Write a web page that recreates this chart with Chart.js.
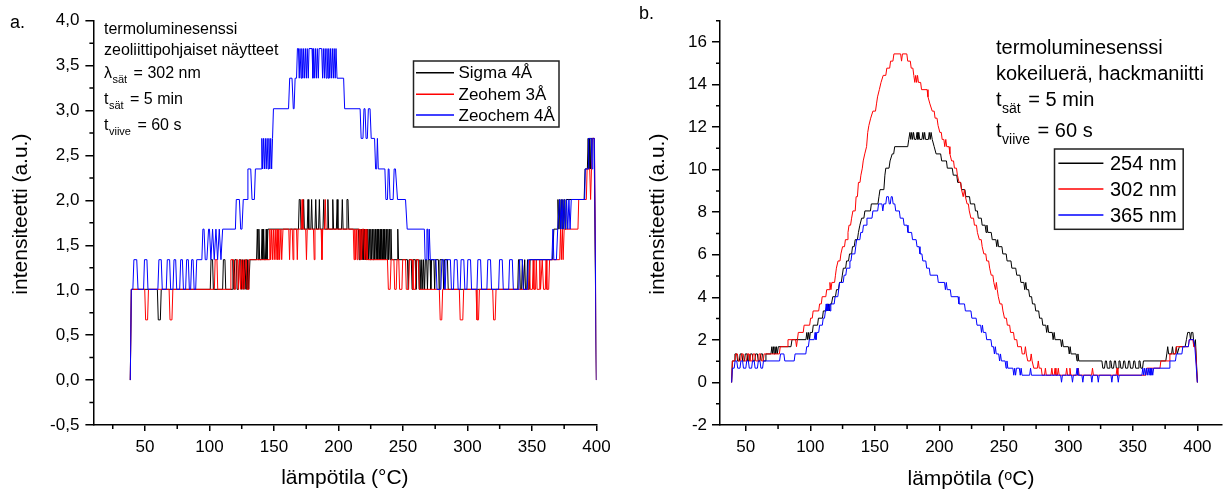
<!DOCTYPE html>
<html><head><meta charset="utf-8">
<script src="https://cdn.jsdelivr.net/npm/chart.js@4.4.1/dist/chart.umd.min.js"></script>
<style>body{margin:0;background:#fff}#wrap{position:relative;width:1224px;height:492px;background:#fff}canvas{position:absolute;top:0}</style>
</head><body><div id="wrap"><canvas id="ca" width="612" height="492" style="left:0"></canvas><canvas id="cb" width="612" height="492" style="left:612px"></canvas></div>
<script>
// ---------------- Panel a data: temperature (°C), intensity (a.u.) ----------------
const seriesNamesA = ['Sigma 4Å', 'Zeohem 3Å', 'Zeochem 4Å'];
const sigma4A = [[38.6,0],[39.4,1.01],[59.6,1.01],[60.3,0.67],[61.9,0.67],[62.6,1.01],[100.6,1.01],[101.2,1.34],[102.4,1.34],[103,1.01],[110.2,1.01],[110.8,1.34],[112,1.34],[112.6,1.01],[117.6,1.01],[118.2,1.34],[119,1.01],[119.6,1.34],[120.8,1.34],[121.4,1.01],[122.4,1.01],[123,1.34],[124.2,1.34],[124.8,1.01],[125.6,1.34],[126.2,1.01],[127,1.34],[127.6,1.01],[128.4,1.34],[129,1.01],[129.8,1.34],[130.4,1.01],[131.4,1.34],[136.5,1.34],[137.1,1.68],[137.7,1.34],[138.3,1.68],[138.9,1.34],[140.2,1.34],[140.8,1.68],[141.4,1.34],[142,1.68],[142.6,1.34],[143.4,1.34],[144,1.68],[144.6,1.34],[145.3,1.68],[169,1.68],[169.6,2.01],[170.4,2.01],[171,1.68],[172.4,1.68],[173,2.01],[173.6,1.68],[175.8,1.68],[176.4,2.01],[177,1.68],[178.6,1.68],[179.2,2.01],[179.8,1.68],[181.8,1.68],[182.4,2.01],[183,1.68],[184.6,1.68],[185.2,2.01],[185.8,1.68],[188,1.68],[188.6,2.01],[189.2,1.68],[191.2,1.68],[191.8,2.01],[192.4,1.68],[195,1.68],[195.6,2.01],[196.2,1.68],[198.4,1.68],[199,2.01],[199.6,1.68],[202.4,1.68],[203,2.01],[203.6,1.68],[206,1.68],[206.6,2.01],[207.4,2.01],[208,1.68],[215.5,1.68],[216.1,1.34],[216.7,1.68],[217.3,1.34],[217.9,1.68],[218.5,1.34],[219.1,1.68],[219.7,1.34],[220.3,1.68],[220.9,1.34],[221.5,1.68],[222.1,1.34],[222.7,1.68],[223.3,1.34],[223.9,1.68],[224.5,1.34],[225.1,1.68],[225.7,1.34],[226.3,1.68],[226.9,1.34],[227.5,1.68],[228.1,1.34],[228.7,1.68],[229.3,1.34],[229.9,1.68],[230.5,1.34],[231.1,1.68],[231.7,1.34],[232.3,1.68],[232.9,1.34],[233.5,1.68],[234.1,1.34],[234.7,1.68],[235.3,1.34],[235.9,1.68],[236.5,1.34],[237.1,1.68],[237.7,1.34],[238.3,1.68],[238.9,1.34],[239.5,1.68],[240.1,1.34],[240.7,1.68],[241.3,1.34],[245.4,1.34],[246,1.68],[246.6,1.34],[253.5,1.34],[254.1,1.01],[254.7,1.34],[256.5,1.34],[257.1,1.01],[257.7,1.34],[259.5,1.34],[260.1,1.01],[260.7,1.34],[262,1.34],[262.6,1.01],[263.2,1.34],[264,1.01],[264.6,1.34],[265.4,1.01],[266,1.34],[266.8,1.01],[267.4,1.34],[268.4,1.34],[269,1.01],[269.6,1.34],[271,1.34],[271.6,1.01],[272.2,1.34],[274,1.34],[274.6,1.01],[275.2,1.34],[277.5,1.34],[278.1,1.01],[278.7,1.34],[281,1.34],[281.6,1.01],[282.2,1.34],[284.5,1.34],[285.1,1.01],[339,1.01],[339.6,1.34],[340.4,1.34],[341,1.01],[342,1.01],[342.6,1.34],[343.4,1.01],[344.4,1.34],[345,1.01],[346,1.01],[346.6,1.34],[347.2,1.01],[348,1.01],[348.6,1.34],[366,1.34],[367,1.68],[369.5,1.68],[370.2,2.01],[371,1.68],[371.6,2.01],[372.2,1.68],[372.8,2.01],[373.4,1.68],[374,2.01],[374.6,1.68],[375.2,2.01],[375.8,1.68],[376.4,2.01],[390.5,2.01],[391.2,2.35],[393,2.35],[393.6,2.69],[394.2,2.35],[394.8,2.69],[395.4,2.35],[396,2.69],[398.2,2.69],[400,0]];
const zeohem3A = [[38.6,0],[39.4,1.01],[49.8,1.01],[50.5,0.67],[52,0.67],[52.7,1.01],[68.7,1.01],[69.4,0.67],[70.9,0.67],[71.6,1.01],[103.8,1.01],[104.4,1.34],[105.8,1.34],[106.4,1.01],[116,1.01],[116.6,1.34],[118.6,1.34],[119.2,1.01],[120.2,1.01],[120.8,1.34],[121.8,1.34],[122.4,1.01],[123.4,1.34],[124,1.01],[124.8,1.34],[125.4,1.01],[126.2,1.34],[126.8,1.01],[127.8,1.34],[128.6,1.34],[129.2,1.01],[130,1.01],[130.6,1.34],[146.2,1.34],[146.8,1.68],[147.4,1.34],[148.2,1.68],[148.8,1.34],[149.6,1.68],[150.2,1.34],[151,1.68],[151.6,1.34],[152.4,1.68],[153,1.34],[153.8,1.68],[154.4,1.34],[155.4,1.68],[156,1.34],[157,1.68],[161.5,1.68],[162.1,1.34],[162.7,1.68],[164.2,1.68],[164.8,1.34],[165.4,1.68],[167.5,1.68],[168.1,1.34],[168.7,1.68],[171.2,1.68],[171.8,2.01],[172.4,1.68],[174.6,1.68],[175.2,1.34],[175.8,1.68],[180.6,1.68],[181.2,1.34],[181.8,1.68],[186.6,1.68],[187.2,1.34],[187.8,1.68],[189.2,1.68],[189.8,2.01],[190.4,1.68],[211.5,1.68],[212.1,1.34],[212.7,1.68],[213.3,1.34],[213.9,1.68],[214.5,1.34],[215.1,1.68],[216.2,1.68],[216.8,1.34],[217.4,1.68],[218,1.34],[218.6,1.68],[219.6,1.68],[220.2,1.34],[220.8,1.68],[221.4,1.34],[222,1.68],[222.6,1.34],[238,1.34],[238.7,1.01],[240.1,1.01],[240.8,1.34],[243,1.34],[243.6,1.01],[244.8,1.01],[245.4,1.34],[246.8,1.34],[247.4,1.01],[249.2,1.01],[249.8,1.34],[252,1.34],[252.6,1.01],[254.4,1.01],[255,1.34],[257.2,1.34],[257.8,1.01],[259.6,1.01],[260.2,1.34],[262,1.34],[262.7,1.01],[278.2,1.01],[278.9,0.67],[280.1,0.67],[280.8,1.01],[293.7,1.01],[294.4,0.67],[296.4,0.67],[297.1,1.01],[306.7,1.01],[307.4,0.67],[308.6,0.67],[309.3,1.01],[319.6,1.01],[320.3,0.67],[321.5,0.67],[322.2,1.01],[347.5,1.01],[348.1,1.34],[348.7,1.01],[350.4,1.01],[351,1.34],[351.6,1.01],[352.8,1.01],[353.4,1.34],[354,1.01],[355.5,1.01],[356.1,1.34],[356.7,1.01],[358,1.34],[359,1.01],[360.4,1.01],[361,1.34],[361.6,1.01],[363,1.01],[363.7,1.34],[371.5,1.34],[372.2,1.68],[372.8,1.34],[373.6,1.68],[374.2,1.34],[375,1.68],[385.7,1.68],[386.3,2.01],[392.2,2.01],[392.8,2.35],[394.8,2.35],[395.5,2.01],[396.2,2.35],[397,2.69],[398.5,2.69],[400,0]];
const zeochem4A = [[38.6,0],[39.4,1.01],[40.6,1.01],[41.4,1.34],[43.6,1.34],[44.6,1.01],[48.9,1.01],[49.6,1.34],[51.5,1.34],[52.3,1.01],[60,1.01],[60.8,1.34],[62.6,1.34],[63.4,1.01],[66.5,1.01],[67.3,1.34],[69.1,1.34],[69.9,1.01],[71.7,1.01],[72.5,1.34],[73.8,1.34],[74.6,1.01],[76.9,1.01],[77.7,1.34],[79,1.34],[79.8,1.01],[81.5,1.01],[82.3,1.34],[83.6,1.34],[84.4,1.01],[85.4,1.01],[86.2,1.34],[87.3,1.34],[88.1,1.01],[89.3,1.01],[90.1,1.34],[94.1,1.34],[94.9,1.68],[95.8,1.68],[96.7,1.34],[98,1.34],[99.3,1.68],[100,1.68],[101.1,1.34],[102.4,1.68],[103.7,1.34],[105,1.68],[106.3,1.34],[107.6,1.68],[108.9,1.34],[110.2,1.68],[120.1,1.68],[120.8,2.01],[123.2,2.01],[124.2,1.68],[125.2,1.68],[126.2,2.01],[129.1,2.01],[129.8,2.35],[132,2.35],[133,2.01],[134.8,2.01],[135.6,2.35],[140,2.35],[140.6,2.69],[141.2,2.35],[141.9,2.69],[142.6,2.35],[143.3,2.69],[144,2.35],[144.7,2.69],[145.4,2.35],[146.1,2.69],[146.8,2.35],[147.5,2.69],[148.2,2.35],[148.9,2.69],[149.6,3.02],[161.3,3.02],[162.2,3.36],[164,3.36],[165,3.02],[165.6,3.02],[166.4,3.36],[167.5,3.36],[168.2,3.69],[169,3.69],[169.6,3.36],[170.2,3.69],[171,3.36],[171.6,3.69],[172.4,3.36],[173,3.69],[173.8,3.36],[174.4,3.69],[175.2,3.36],[175.8,3.69],[176.6,3.36],[177.2,3.69],[179.5,3.69],[180.2,3.36],[180.8,3.69],[181.6,3.36],[182.2,3.69],[183,3.36],[183.6,3.69],[184.4,3.36],[185,3.69],[187,3.69],[187.7,3.36],[188.3,3.69],[189.1,3.36],[189.7,3.69],[190.5,3.36],[191.1,3.69],[191.9,3.36],[192.5,3.69],[193.3,3.36],[193.9,3.69],[194.7,3.36],[195.3,3.69],[196.1,3.36],[196.7,3.69],[197.5,3.36],[198.1,3.69],[198.9,3.36],[204,3.36],[204.8,3.02],[216.8,3.02],[217.6,2.69],[219,2.69],[219.8,3.02],[220.6,3.02],[221.4,2.69],[222.4,2.69],[223.2,3.02],[224.5,3.02],[225.4,2.69],[228,2.69],[228.8,2.35],[229.6,2.35],[230.2,2.69],[230.9,2.35],[236,2.35],[236.8,2.01],[238,2.01],[238.6,2.35],[239.2,2.35],[240,2.01],[242.4,2.01],[243.2,2.35],[244.2,2.35],[245.8,2.01],[252,2.01],[253.3,1.68],[266.6,1.68],[267.2,1.34],[268,1.34],[268.6,1.68],[269.2,1.68],[269.8,1.34],[270.4,1.68],[271.2,1.34],[275.6,1.34],[276.4,1.01],[279.4,1.01],[280.2,1.34],[281.6,1.34],[282.4,1.01],[282.8,1.01],[283.4,1.34],[286.8,1.34],[287.6,1.01],[289.2,1.01],[289.9,1.34],[292,1.34],[292.8,1.01],[294.4,1.01],[295.1,1.34],[297.2,1.34],[298,1.01],[299.6,1.01],[300.3,1.34],[302.4,1.34],[303.2,1.01],[307.4,1.01],[308.1,1.34],[310.2,1.34],[311,1.01],[315.1,1.01],[315.8,1.34],[317.9,1.34],[318.7,1.01],[324.2,1.01],[324.9,1.34],[327,1.34],[327.8,1.01],[332,1.01],[332.7,1.34],[334.8,1.34],[335.6,1.01],[339.8,1.01],[340.5,1.34],[342.6,1.34],[343.4,1.01],[346.4,1.01],[347.2,1.34],[365.5,1.34],[366.3,1.68],[367,1.34],[369,1.34],[370,1.68],[371.5,2.01],[372.5,1.68],[373.3,2.01],[374.3,1.68],[375.1,2.01],[376,1.68],[376.9,2.01],[377.8,1.68],[378.7,2.01],[379.6,1.68],[380.5,2.01],[390.9,2.01],[391.4,2.35],[393.5,2.35],[394,2.69],[396,2.69],[396.6,2.35],[397.2,2.69],[398.4,2.69],[400,0]];

// ---------------- Panel b data ----------------
const seriesNamesB = ['254 nm', '302 nm', '365 nm'];
const nm254 = [[39,0],[39.6,1.01],[41,1.01],[41.6,1.34],[43,1.34],[43.6,1.01],[45,1.01],[45.6,1.34],[47,1.34],[47.6,1.01],[49,1.01],[49.6,1.34],[51,1.34],[51.6,1.01],[53,1.01],[53.6,1.34],[55,1.34],[55.6,1.01],[57,1.01],[57.6,1.34],[59,1.34],[59.6,1.01],[61,1.01],[61.6,1.34],[63,1.34],[63.6,1.01],[65,1.01],[65.6,1.34],[69.5,1.34],[70.2,1.68],[70.8,1.34],[71.4,1.68],[72,1.34],[72.6,1.68],[73.2,1.34],[73.8,1.68],[74.4,1.34],[75.2,1.68],[85,1.68],[85.8,2.01],[96.6,2.01],[97.3,2.35],[98,2.01],[98.7,2.35],[99.4,2.01],[100,2.35],[101.6,2.35],[102.3,2.69],[105.6,2.69],[106.3,3.02],[109.4,3.02],[110.1,3.36],[112.4,3.36],[113,3.69],[113.6,3.36],[114.2,3.69],[114.8,3.36],[115.4,3.69],[116.4,3.69],[117.4,4.03],[119.5,4.03],[120.3,4.36],[121.8,4.36],[122.6,4.7],[124,4.7],[124.8,5.04],[125.6,5.37],[127.4,5.37],[128.1,5.71],[129.6,5.71],[130.4,6.04],[132,6.04],[132.7,6.38],[134,6.38],[134.8,6.71],[136.5,6.71],[137.3,7.05],[138.4,7.39],[139.8,7.72],[141.5,7.72],[142.3,8.06],[146.6,8.06],[147.3,8.39],[152.4,8.39],[153.2,8.73],[154,9.06],[157,9.06],[157.8,9.74],[158.5,10.07],[161,10.07],[161.8,10.41],[163.5,10.74],[164.6,10.74],[165.4,11.08],[175.5,11.08],[176.3,11.42],[177.2,11.75],[177.9,11.42],[178.6,11.75],[179.3,11.42],[180,11.75],[180.8,11.42],[182,11.42],[182.7,11.75],[183.4,11.42],[184.1,11.75],[184.8,11.42],[186.5,11.42],[187.2,11.75],[187.9,11.42],[188.6,11.75],[189.3,11.42],[191.5,11.42],[192.2,11.75],[192.9,11.42],[193.6,11.75],[194.5,11.42],[196,11.08],[197.5,10.74],[201,10.74],[201.8,10.41],[205.5,10.41],[206.2,10.07],[210,10.07],[210.8,9.74],[213.5,9.74],[214.2,9.4],[216.5,9.4],[217.2,9.06],[219.8,9.06],[220.5,8.73],[223.4,8.73],[224.1,8.39],[227.3,8.39],[228,8.06],[229.5,8.06],[230.2,7.72],[232.5,7.72],[233.2,7.39],[235.5,7.39],[236.2,7.05],[236.9,7.39],[237.6,7.05],[240.2,7.05],[241,6.71],[243.8,6.71],[244.5,6.38],[245.2,6.71],[245.9,6.38],[248.5,6.38],[249.2,6.04],[251.8,6.04],[252.5,5.71],[255.5,5.71],[256.2,5.37],[259.2,5.37],[260,5.04],[262.5,5.04],[263.2,4.7],[265.5,4.7],[266.2,4.36],[267,4.7],[267.7,4.36],[269.2,4.36],[270,4.03],[271.5,4.03],[272.2,3.69],[274,3.69],[274.7,3.36],[277,3.36],[277.7,3.02],[279.5,3.02],[280.2,2.69],[282.5,2.69],[283.2,2.35],[284,2.69],[284.7,2.35],[287.5,2.35],[288.2,2.01],[289,2.35],[289.7,2.01],[294,2.01],[294.7,1.68],[295.4,2.01],[296.1,1.68],[300,1.68],[300.7,1.34],[301.4,1.68],[302.1,1.34],[306,1.34],[306.7,1.01],[307.4,1.34],[308.1,1.01],[326,1.01],[326.7,0.67],[328,0.67],[328.7,1.01],[329.5,1.01],[330.2,0.67],[331.5,0.67],[332.2,1.01],[333,1.01],[333.7,0.67],[335,0.67],[335.7,1.01],[336.5,1.01],[337.2,0.67],[338.5,0.67],[339.2,1.01],[340,1.01],[340.7,0.67],[342.2,0.67],[342.9,1.01],[343.7,1.01],[344.4,0.67],[346,0.67],[346.7,1.01],[347.5,1.01],[348.2,0.67],[350,0.67],[350.7,1.01],[351.5,1.01],[352.2,0.67],[354,0.67],[354.7,1.01],[355.5,1.01],[356.2,0.67],[357.5,0.67],[358.2,1.01],[375.5,1.01],[376.3,1.34],[377,1.68],[377.7,1.34],[380,1.34],[380.7,1.68],[381.4,1.34],[383,1.34],[383.7,1.68],[384.4,1.34],[386,1.68],[390.5,1.68],[391.5,2.01],[392.5,2.35],[394,2.35],[394.7,2.01],[395.4,2.35],[396.5,2.35],[397.5,1.68],[398.5,2.01],[400,0]];
const nm302 = [[39,0],[39.6,1.01],[41.5,1.01],[42.2,1.34],[43.5,1.34],[44.2,1.01],[46,1.01],[46.7,1.34],[48,1.34],[48.7,1.01],[50.5,1.01],[51.2,1.34],[52.5,1.34],[53.2,1.01],[55,1.01],[55.7,1.34],[57,1.34],[57.7,1.01],[59.5,1.01],[60.2,1.34],[61.5,1.34],[62.2,1.01],[63.5,1.01],[64.2,1.34],[76,1.34],[76.7,1.68],[82,1.68],[82.7,2.01],[88.6,2.01],[89.3,1.68],[90,2.01],[90.7,2.35],[94.5,2.35],[95.2,2.69],[99.5,2.69],[100.2,3.02],[101.5,3.02],[102.2,3.36],[106.5,3.36],[107.2,3.69],[108.5,3.69],[109.2,4.03],[112,4.03],[112.7,4.36],[114.5,4.36],[115.2,4.7],[116,4.36],[116.7,4.7],[118.8,4.7],[119.5,5.04],[120.2,5.37],[121.5,5.71],[123,5.71],[123.7,6.04],[125,6.38],[126.5,6.38],[127.2,6.71],[128.5,6.71],[129.2,7.05],[130,7.39],[131.2,7.39],[132,7.72],[133,8.06],[134.8,8.06],[135.5,8.73],[136.5,8.73],[137.3,9.4],[138.5,9.4],[139.2,9.74],[140.3,10.07],[141,10.41],[142.2,10.74],[143.6,11.08],[144.5,11.75],[145.4,12.08],[146.8,12.42],[148.5,12.75],[150.5,12.75],[151.3,13.09],[152.1,13.42],[153.5,13.76],[154.8,14.1],[156.5,14.43],[158.5,14.43],[159.3,14.77],[161.5,14.77],[162.2,15.1],[164,15.1],[164.8,15.44],[170,15.44],[170.7,15.1],[171.4,15.44],[174.8,15.44],[175.5,15.1],[177.5,15.1],[178.2,14.77],[179.5,14.77],[180.2,14.43],[181,14.1],[181.7,14.43],[182.4,14.1],[183.1,14.43],[183.8,14.1],[185.5,14.1],[186.2,13.76],[190.5,13.76],[191.2,13.42],[192.7,13.09],[194.5,12.75],[196,12.75],[196.7,12.42],[198.2,12.42],[199,12.08],[200.4,11.75],[201.5,11.75],[202.2,11.42],[203.5,11.42],[204.2,11.08],[205,11.42],[205.7,11.08],[207.5,11.08],[208.2,10.74],[209.5,10.41],[211,10.41],[211.7,10.07],[213.3,10.07],[214,9.74],[215.3,9.4],[216.5,9.4],[217.2,9.06],[218.5,8.73],[219.5,9.06],[220.2,8.73],[221.5,8.39],[222.5,8.39],[223.2,8.06],[224.5,7.72],[226.5,7.72],[227.2,7.39],[228.8,7.39],[229.5,7.05],[231,6.71],[232.5,6.71],[233.2,6.38],[234.5,6.04],[236,6.04],[236.7,5.71],[238.2,5.71],[239,5.37],[240.2,5.04],[241.5,5.04],[242.2,4.7],[243.5,4.36],[244.2,4.7],[244.9,4.36],[245.7,4.03],[247,3.69],[248.5,3.69],[249.3,3.36],[250.5,3.02],[252,3.02],[252.7,2.69],[254.5,2.69],[255.2,2.35],[257.5,2.35],[258.2,2.01],[260,2.01],[260.7,1.68],[263.5,1.68],[264.2,1.34],[266,1.34],[266.7,1.68],[267.4,1.34],[268.5,1.01],[270.5,1.01],[271.2,1.34],[271.9,1.01],[273.2,0.67],[276,0.67],[276.7,1.01],[277.4,0.67],[279,0.67],[279.7,0.34],[281.5,0.34],[282.2,0.67],[282.9,0.34],[286.5,0.34],[287.2,0.67],[287.9,0.34],[289,0.34],[289.7,0.67],[290.4,0.34],[291.5,0.34],[292.2,0.67],[292.9,0.34],[298,0.34],[298.7,0.67],[299.4,0.34],[300.5,0.34],[301.2,0.67],[301.9,0.34],[307,0.34],[307.7,0.67],[308.4,0.34],[318,0.34],[318.7,0.67],[319.4,0.34],[337,0.34],[337.7,0.67],[338.4,0.34],[360,0.34],[360.7,0.67],[371,0.67],[371.7,1.01],[378,1.01],[378.7,1.34],[383,1.34],[383.7,1.68],[393,1.68],[393.7,2.01],[396.5,2.01],[397.2,1.68],[398.5,1.68],[400,0]];
const nm365 = [[39,0],[39.6,0.67],[41,0.67],[41.7,1.01],[43,1.01],[43.7,0.67],[45.5,0.67],[46.2,1.01],[47.5,1.01],[48.2,0.67],[50,0.67],[50.7,1.01],[52,1.01],[52.7,0.67],[54.5,0.67],[55.2,1.01],[56.5,1.01],[57.2,0.67],[59,0.67],[59.7,1.01],[61,1.01],[61.7,0.67],[63,0.67],[63.7,1.01],[76.2,1.01],[76.9,1.34],[79.5,1.34],[80.2,1.01],[87.5,1.01],[88.2,1.34],[96.5,1.34],[97.2,1.68],[98.5,1.68],[99.2,2.01],[103,2.01],[103.7,2.35],[104.4,2.01],[105.1,2.35],[106.5,2.35],[107.2,2.69],[109.3,2.69],[110,3.02],[111,3.02],[111.7,3.36],[112.3,3.69],[112.9,3.36],[113.5,3.69],[114.1,3.36],[114.7,3.69],[115.3,3.36],[115.9,3.69],[118.5,3.69],[119.2,4.03],[121.3,4.03],[122,4.36],[122.7,4.7],[125.5,4.7],[126.2,5.04],[127.5,5.04],[128.2,5.37],[130,5.37],[130.7,5.71],[131.5,5.71],[132.2,6.04],[134.5,6.04],[135.2,6.38],[135.9,6.71],[138.4,6.71],[139.1,7.05],[140.5,7.05],[141.2,7.39],[143.2,7.39],[143.9,7.72],[147.8,7.72],[148.5,8.06],[152.2,8.06],[152.9,8.39],[155.5,8.39],[156.2,8.06],[156.9,8.39],[158.5,8.39],[159.2,8.73],[160.5,8.73],[161.2,8.39],[162,8.39],[162.7,8.73],[163.5,8.73],[164.2,8.39],[165.5,8.39],[166.2,8.06],[169,8.06],[169.7,7.72],[172,7.72],[172.7,7.39],[175,7.39],[175.7,7.05],[178.5,7.05],[179.2,6.71],[182,6.71],[182.7,6.38],[184.3,6.38],[185,6.04],[186.5,6.04],[187.2,5.71],[189.5,5.71],[190.2,5.37],[192.2,5.37],[192.9,5.04],[198.5,5.04],[199.2,4.7],[204,4.7],[204.7,4.36],[205.4,4.7],[206.1,4.36],[208.5,4.36],[209.2,4.03],[214.5,4.03],[215.2,3.69],[219.5,3.69],[220.2,3.36],[224.5,3.36],[225.2,3.02],[228.5,3.02],[229.2,2.69],[232,2.69],[232.7,2.35],[233.4,2.69],[234.1,2.35],[236,2.35],[236.7,2.01],[240,2.01],[240.7,1.68],[242,1.68],[242.7,1.34],[243.4,1.68],[244.1,1.34],[246,1.34],[246.7,1.01],[247.4,1.34],[248.1,1.01],[251,1.01],[251.7,0.67],[252.4,1.01],[253.1,0.67],[257,0.67],[257.7,0.34],[258.4,0.67],[259.1,0.34],[259.8,0.67],[262,0.67],[262.7,0.34],[263.4,0.67],[264.1,0.34],[270,0.34],[270.7,0.67],[271.4,0.34],[294,0.34],[294.7,0.01],[295.4,0.34],[302.5,0.34],[303.2,0.01],[303.9,0.34],[306,0.34],[306.7,0.67],[307.4,0.34],[310.5,0.34],[311.2,0.01],[311.9,0.34],[317.5,0.34],[318.2,0.01],[318.9,0.34],[322.5,0.34],[323.2,0.01],[323.9,0.34],[333,0.34],[333.7,0.01],[334.4,0.34],[338,0.34],[338.7,0.01],[339.4,0.34],[357,0.34],[357.7,0.67],[358.4,0.34],[359.1,0.67],[359.8,0.34],[360.5,0.67],[361.2,0.34],[361.9,0.67],[362.6,0.34],[363.3,0.67],[364,0.34],[364.7,0.67],[365.4,0.34],[366.1,0.67],[378,0.67],[378.7,1.01],[383,1.01],[383.7,1.34],[388,1.34],[388.7,1.68],[393,1.68],[393.7,2.01],[397,2.01],[398,1.68],[400,0]];

// ---------------- Tick values ----------------
const xMajorA = [50,100,150,200,250,300,350,400];
const xMinorA = [25,75,125,175,225,275,325,375];
const yMajorA = [-0.5,0,0.5,1,1.5,2,2.5,3,3.5,4];
const yMinorA = [-0.25,0.25,0.75,1.25,1.75,2.25,2.75,3.25,3.75];
const xMajorB = [50,100,150,200,250,300,350,400];
const xMinorB = [75,125,175,225,275,325,375];
const yMajorB = [-2,0,2,4,6,8,10,12,14,16];
const yMinorB = [-1,1,3,5,7,9,11,13,15,17];

const FONT = "'Liberation Sans', Arial, Helvetica, sans-serif";
const COLORS = ['#000000', '#ff0000', '#0000ff'];

function pts(a){ return a.map(p => ({x:p[0], y:p[1]})); }
function ds(label, arr, color, order){
  return {label, data: pts(arr), borderColor: color, backgroundColor: color, borderWidth: 1,
          pointRadius: 0, pointHoverRadius: 0, tension: 0, fill: false, order};
}

function drawRich(ctx, x, y, parts, mainSize, subSize, subDy){
  let cx = x;
  for (const p of parts){
    if (p.sub){
      ctx.font = subSize + 'px ' + FONT;
      ctx.fillText(p.t, cx, y + subDy);
      cx += ctx.measureText(p.t).width + (p.gap || 0);
    } else {
      ctx.font = mainSize + 'px ' + FONT;
      ctx.fillText(p.t, cx, y);
      cx += ctx.measureText(p.t).width + (p.gap || 0);
    }
  }
}

const decor = {
  id: 'decor',
  afterDraw(chart, args, o){
    const ctx = chart.ctx, xs = chart.scales.x, ys = chart.scales.y;
    ctx.save();
    // minor ticks
    ctx.strokeStyle = '#000'; ctx.lineWidth = 1.5;
    ctx.beginPath();
    o.xMinor.forEach(v => { if (v < xs.min || v > xs.max) return; const p = xs.getPixelForValue(v); ctx.moveTo(p, xs.top); ctx.lineTo(p, xs.top + 4); });
    o.yMinor.forEach(v => { if (v < ys.min || v > ys.max) return; const p = ys.getPixelForValue(v); ctx.moveTo(ys.right, p); ctx.lineTo(ys.right - 4, p); });
    ctx.stroke();
    // panel label
    ctx.fillStyle = '#000'; ctx.textBaseline = 'alphabetic'; ctx.textAlign = 'left';
    ctx.font = '18px ' + FONT;
    ctx.fillText(o.panel.t, o.panel.x, o.panel.y);
    // annotation lines
    o.lines.forEach(l => drawRich(ctx, l.x, l.y, l.parts, o.mainSize, o.subSize, o.subDy));
    // legend
    const L = o.legend;
    ctx.strokeStyle = '#222'; ctx.lineWidth = 1.5;
    ctx.strokeRect(L.x, L.y, L.w, L.h);
    ctx.textBaseline = 'middle';
    ctx.font = L.size + 'px ' + FONT;
    L.items.forEach((it, i) => {
      const yy = L.rows[i];
      ctx.strokeStyle = it.color; ctx.lineWidth = 1.6;
      ctx.beginPath(); ctx.moveTo(L.lx0, yy); ctx.lineTo(L.lx1, yy); ctx.stroke();
      ctx.fillStyle = '#000';
      ctx.fillText(it.label, L.tx, yy + 1);
    });
    ctx.restore();
  }
};

function makeScales(cfg){
  return {
    x: {
      type: 'linear', min: cfg.xmin, max: cfg.xmax,
      afterBuildTicks: s => { s.ticks = cfg.xMajor.map(v => ({value: v})); },
      afterFit: s => { s.height = 67; s.paddingLeft = 0; s.paddingRight = 0; },
      grid: {drawOnChartArea: false, drawTicks: true, tickLength: 6, tickColor: '#000', tickWidth: 1.5, lineWidth: 1.5},
      border: {display: true, color: '#000', width: 1.5},
      ticks: {font: {family: FONT, size: 17}, color: '#000', padding: 6, maxRotation: 0, autoSkip: false,
              callback: v => String(v)},
      title: {display: true, text: cfg.xTitle, font: {family: FONT, size: 21}, color: '#000',
              padding: {top: 0, bottom: cfg.xTitlePad}}
    },
    y: {
      type: 'linear', min: cfg.ymin, max: cfg.ymax,
      afterBuildTicks: s => { s.ticks = cfg.yMajor.map(v => ({value: v})); },
      afterFit: s => { s.width = cfg.yWidth; s.paddingTop = 0; s.paddingBottom = 0; },
      grid: {drawOnChartArea: false, drawTicks: true, tickLength: 8, tickColor: '#000', tickWidth: 1.5, lineWidth: 1.5},
      border: {display: true, color: '#000', width: 1.5},
      ticks: {font: {family: FONT, size: 17}, color: '#000', padding: cfg.yPad, autoSkip: false,
              callback: cfg.yFmt},
      title: {display: true, text: '   intensiteetti (a.u.)', font: {family: FONT, size: 21}, color: '#000',
              padding: {top: cfg.yTitlePad, bottom: 0}}
    }
  };
}

const common = {
  responsive: false, animation: false, devicePixelRatio: 1,
  interaction: {mode: null},
  plugins: {legend: {display: false}, tooltip: {enabled: false}}
};

new Chart(document.getElementById('ca'), {
  type: 'line',
  data: {datasets: [
    ds(seriesNamesA[0], sigma4A, COLORS[0], 3),
    ds(seriesNamesA[1], zeohem3A, COLORS[1], 2),
    ds(seriesNamesA[2], zeochem4A, COLORS[2], 1)
  ]},
  options: Object.assign({}, common, {
    layout: {padding: {left: 0, right: 15.6, top: 20.7, bottom: 0}, autoPadding: false},
    scales: makeScales({xmin: 10, xmax: 400, xMajor: xMajorA, xTitle: 'lämpötila (°C)', xTitlePad: 1,
      ymin: -0.5, ymax: 4, yMajor: yMajorA, yWidth: 93.4, yPad: 6, yTitlePad: 9,
      yFmt: v => Number(v).toFixed(1).replace('.', ',')}),
    plugins: Object.assign({}, common.plugins, {decor: {
      xMinor: xMinorA, yMinor: yMinorA,
      panel: {t: 'a.', x: 10, y: 28},
      mainSize: 16, subSize: 11, subDy: 5,
      lines: [
        {x: 104, y: 34, parts: [{t: 'termoluminesenssi'}]},
        {x: 104, y: 55, parts: [{t: 'zeoliittipohjaiset näytteet'}]},
        {x: 104, y: 78, parts: [{t: 'λ', gap: 0.5}, {t: 'sät', sub: true, gap: 2}, {t: ' = 302 nm'}]},
        {x: 104, y: 104, parts: [{t: 't', gap: 0.5}, {t: 'sät', sub: true, gap: 2}, {t: ' = 5 min'}]},
        {x: 104, y: 130, parts: [{t: 't', gap: 0.5}, {t: 'viive', sub: true, gap: 2}, {t: ' = 60 s'}]}
      ],
      legend: {x: 413.5, y: 61, w: 145.5, h: 66, size: 17, lx0: 416, lx1: 454, tx: 458.5, rows: [72.7, 94.3, 115],
        items: seriesNamesA.map((s, i) => ({label: s, color: COLORS[i]}))}
    }})
  }),
  plugins: [decor]
});

new Chart(document.getElementById('cb'), {
  type: 'line',
  data: {datasets: [
    ds(seriesNamesB[0], nm254, COLORS[0], 3),
    ds(seriesNamesB[1], nm302, COLORS[1], 2),
    ds(seriesNamesB[2], nm365, COLORS[2], 1)
  ]},
  options: Object.assign({}, common, {
    layout: {padding: {left: 0, right: 2.1, top: 20.7, bottom: 0}, autoPadding: false},
    scales: makeScales({xmin: 30, xmax: 419, xMajor: xMajorB, xTitle: 'lämpötila (ᵒC)', xTitlePad: 0,
      ymin: -2, ymax: 17, yMajor: yMajorB, yWidth: 108, yPad: 5, yTitlePad: 34,
      yFmt: v => String(v)}),
    plugins: Object.assign({}, common.plugins, {decor: {
      xMinor: xMinorB, yMinor: yMinorB,
      panel: {t: 'b.', x: 27, y: 19},
      mainSize: 20, subSize: 14, subDy: 7,
      lines: [
        {x: 384, y: 54, parts: [{t: 'termoluminesenssi'}]},
        {x: 384, y: 80, parts: [{t: 'kokeiluerä, hackmaniitti'}]},
        {x: 384, y: 106, parts: [{t: 't', gap: 0.5}, {t: 'sät', sub: true, gap: 2}, {t: ' = 5 min'}]},
        {x: 384, y: 137, parts: [{t: 't', gap: 0.5}, {t: 'viive', sub: true, gap: 2}, {t: ' = 60 s'}]}
      ],
      legend: {x: 442.5, y: 149, w: 128.7, h: 80.3, size: 20, lx0: 446.4, lx1: 491.4, tx: 498, rows: [163.3, 189, 215],
        items: seriesNamesB.map((s, i) => ({label: s, color: COLORS[i]}))}
    }})
  }),
  plugins: [decor]
});
</script></body></html>
